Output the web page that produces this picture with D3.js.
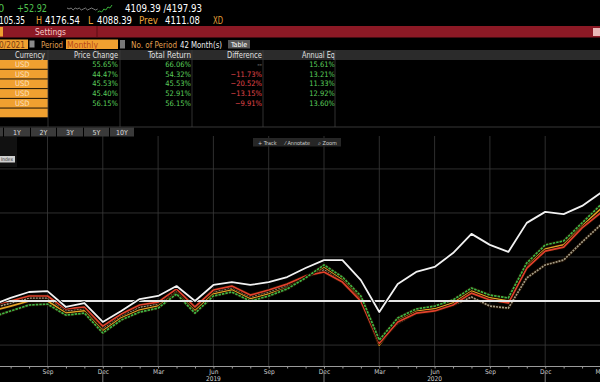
<!DOCTYPE html>
<html><head><meta charset="utf-8">
<script src="https://cdn.jsdelivr.net/npm/d3@7"></script>
<style>
html,body{margin:0;padding:0;background:#000;overflow:hidden}
svg{display:block}
text{font-family:"Liberation Sans Narrow","Arial Narrow","DejaVu Sans Condensed",sans-serif}
</style></head><body>
<svg id="c" width="600" height="382"></svg>
<script>
// ---------- DATA ----------
const months = ["2018-06","2018-07","2018-08","2018-09","2018-10","2018-11","2018-12",
 "2019-01","2019-02","2019-03","2019-04","2019-05","2019-06","2019-07","2019-08","2019-09","2019-10","2019-11","2019-12",
 "2020-01","2020-02","2020-03","2020-04","2020-05","2020-06","2020-07","2020-08","2020-09","2020-10","2020-11","2020-12",
 "2021-01","2021-02","2021-03"];
const whiteSeries  = [-1.8,1.4,4.1,4.5,-2.7,-0.9,-9.5,-4.5,0.9,2.3,6.8,0,7.3,8.6,7.3,8.6,10.9,15.0,18.6,18.6,9.5,-5.0,7.7,13.2,15.5,21.8,30.5,25.5,22.3,35.5,40.5,39.5,43.2,49.1];
const redSeries    = [-1.8,0,2.3,2.3,-3.6,-2.7,-11.4,-5.9,-1.8,-0.5,5.5,-2.7,5.0,6.8,2.7,5.0,7.7,11.4,13.2,8.6,0,-19.1,-9.5,-5.5,-4.5,-1.8,3.6,0.5,-0.9,15.0,22.7,24.5,33.2,40.0];
const graySeries   = [-3.2,-0.9,1.4,1.4,-4.5,-3.6,-12.3,-6.8,-2.7,-1.4,4.5,-3.6,4.1,5.9,1.8,4.1,6.8,10.9,14.1,9.1,0.9,-18.6,-10.0,-5.5,-4.5,-1.8,1.8,-2.3,-3.2,10.5,16.4,18.6,26.8,34.5];
const orangeSeries = [-4.5,-2.3,0,0,-5.5,-4.5,-13.6,-7.7,-4.1,-2.3,3.6,-4.5,3.2,5.0,0.9,3.2,5.9,10.9,15.5,10.0,0.9,-20.0,-8.6,-4.5,-3.6,-0.9,4.5,1.4,0,15.9,23.6,25.5,34.1,41.8];
const greenSeries  = [-7.3,-4.5,-1.8,-1.4,-6.4,-5.5,-14.5,-8.6,-5.0,-3.2,3.2,-5.5,2.3,4.1,0,2.3,5.5,10.5,16.4,10.9,2.3,-17.7,-7.7,-3.6,-2.3,0.5,5.9,2.7,1.4,17.3,25.5,27.3,35.5,43.6];
const gridValues = [-20,0,20,40,60];
const yearLabels = ["2018","2019","2020"];

const currencies  = ["USD","USD","USD","USD","USD"];
const priceChange = [55.65,44.47,45.53,45.40,56.15];
const totalReturn = [66.06,54.32,45.53,52.91,56.15];
const difference  = [null,-11.73,-20.52,-13.15,-9.91];
const annualEq    = [15.61,13.21,11.33,12.92,13.60];
const tableHeaders = ["Currency","Price Change","Total Return","Difference","Annual Eq"];
const rangeButtons = ["1Y","2Y","3Y","5Y","10Y"];
const sparkGray  = [6,7,6,8,6,7,6,8,7,6,8,7,6,7,8,7];
const sparkGreen = [10,9,10,7,8,5,6,3];

// ---------- DRAW ----------
const svg = d3.select("#c");
svg.append("rect").attr("width",600).attr("height",382).attr("fill","#000");

function T(x,y,s,o={}){
  const t = svg.append("text").attr("x",x).attr("y",y).text(s)
    .attr("font-size",o.size||10).attr("fill",o.fill||"#fff")
    .attr("text-anchor",o.anchor||"start");
  if(o.len) t.attr("textLength",o.len).attr("lengthAdjust","spacingAndGlyphs");
  return t;
}

// quote header
T(-2,12,"0",{fill:"#4fc04f",size:11});
T(17,12,"+52.92",{fill:"#4fc04f",size:11,len:30});
const sx = d3.scaleLinear().domain([0,sparkGray.length+sparkGreen.length-2]).range([67,112]);
const sy = d3.scaleLinear().domain([0,12]).range([2,14]);
svg.append("path").attr("d",d3.line().x((d,i)=>sx(i)).y(d=>sy(d))(sparkGray))
  .attr("fill","none").attr("stroke","#9a9a9a").attr("stroke-width",0.8);
svg.append("path").attr("d",d3.line().x((d,i)=>sx(i+sparkGray.length-1)).y(d=>sy(d))(sparkGreen))
  .attr("fill","none").attr("stroke","#3fbf3f").attr("stroke-width",0.9);
T(125,12,"4109.39 /4197.93",{size:11,len:77});
T(-1,24,"105.35",{size:11,len:26});
T(36,24,"H",{size:11,fill:"#e8a23a",len:6});
T(45,24,"4176.54",{size:11,len:35});
T(88,24,"L",{size:11,fill:"#e8a23a",len:5});
T(97,24,"4088.39",{size:11,len:35});
T(139,24,"Prev",{size:11,fill:"#e8a23a",len:19});
T(165,24,"4111.08",{size:11,len:35});
T(213,24,"XD",{size:11,fill:"#e8a23a",len:10});

// red settings bar
svg.append("rect").attr("x",0).attr("y",26).attr("width",600).attr("height",11.5).attr("fill","#8c1925");
svg.append("rect").attr("x",0).attr("y",27).attr("width",3).attr("height",9.5).attr("fill","#f0a030");
svg.append("line").attr("x1",97).attr("x2",97).attr("y1",26).attr("y2",37.5).attr("stroke","#5a0e15");
T(35,35,"Settings",{size:8.5,fill:"#f4c8c8",len:31});
svg.append("rect").attr("x",593).attr("y",28).attr("width",7).attr("height",8).attr("fill","#e9b7b7");

// period row
svg.append("rect").attr("x",0).attr("y",39.5).attr("width",28).attr("height",9.5).attr("fill","#f0a030");
T(-1,47.5,"0/2021",{size:8,fill:"#7a3b10",len:26});
svg.append("rect").attr("x",29.5).attr("y",40.5).attr("width",5).attr("height",7).attr("fill","#8a8a8a");
T(41,47.5,"Period",{size:8.5,fill:"#e0a050",len:22});
svg.append("rect").attr("x",66).attr("y",39.5).attr("width",52).attr("height",9.5).attr("fill","#f0a030");
T(67,47.5,"Monthly",{size:8.5,fill:"#b84818",len:31});
svg.append("rect").attr("x",120).attr("y",40).attr("width",5).attr("height",8.5).attr("fill","#777");
T(131,47.5,"No. of Period",{size:8.5,fill:"#e0a050",len:46});
T(180,47.5,"42 Month(s)",{size:8.5,fill:"#f0f0f0",len:42});
svg.append("rect").attr("x",228).attr("y",40).attr("width",22).attr("height",8.5).attr("fill","#555");
T(239,47,"Table",{size:7,fill:"#fff",anchor:"middle"});

// table header
svg.append("rect").attr("x",0).attr("y",50).attr("width",600).attr("height",10).attr("fill","#2b2b2b");
const colRight = [null,118,191,262,335];
const headLen = [30,44,43,35,33];
T(15,57.8,tableHeaders[0],{size:8,fill:"#e0e0e0",len:headLen[0]});
for(let c=1;c<5;c++) T(colRight[c]-headLen[c],57.8,tableHeaders[c],{size:8,fill:"#e0e0e0",len:headLen[c]});

const rowTop = i => 59.5 + 9.7*i;
const pct = d3.format(".2f");
for(let i=0;i<6;i++){
  svg.append("rect").attr("x",0).attr("y",rowTop(i)+0.5).attr("width",48).attr("height",8.8).attr("fill","#f0a030");
}
currencies.forEach((cur,i)=>{
  const yb = rowTop(i)+7.5;
  T(15,yb,cur,{size:7.5,fill:"#fbe0c0"});
  T(118,yb,pct(priceChange[i])+"%",{size:7.5,fill:"#5ccf5c",anchor:"end"});
  T(191,yb,pct(totalReturn[i])+"%",{size:7.5,fill:"#5ccf5c",anchor:"end"});
  T(262,yb,difference[i]==null?"--":pct(difference[i])+"%",{size:7.5,fill:difference[i]==null?"#aaa":"#e0464a",anchor:"end"});
  T(335,yb,pct(annualEq[i])+"%",{size:7.5,fill:"#5ccf5c",anchor:"end"});
});
[48,120,192,263,335].forEach(xv=>{
  svg.append("line").attr("x1",xv).attr("x2",xv).attr("y1",50).attr("y2",127).attr("stroke","#3c3c3c").attr("stroke-width",0.8);
});

// range buttons
svg.append("line").attr("x1",0).attr("x2",600).attr("y1",127).attr("y2",127).attr("stroke","#444").attr("stroke-width",0.8);
svg.append("rect").attr("x",0).attr("y",127.5).attr("width",3).attr("height",9).attr("fill","#3a3a3a");
const btnX = [4,31,57,84,110], btnW=[26,25,26,25,24];
rangeButtons.forEach((b,i)=>{
  svg.append("rect").attr("x",btnX[i]).attr("y",127.5).attr("width",btnW[i]).attr("height",9).attr("fill","#3a3a3a");
  T(btnX[i]+btnW[i]/2,134.5,b,{size:7,fill:"#ddd",anchor:"middle"});
});

// ---------- CHART ----------
const x = d3.scaleLinear().domain([0,months.length-1]).range([-7.8,600.5]);
const y = d3.scaleLinear().domain([-29.5,74.5]).range([366,137]);
const parseM = d3.timeParse("%Y-%m"), fmtM = d3.timeFormat("%b");
const dates = months.map(parseM);
const quarterIdx = d3.range(months.length).filter(i=>dates[i].getMonth()%3===2);
const decIdx = d3.range(months.length).filter(i=>dates[i].getMonth()===11);

svg.append("defs").append("clipPath").attr("id","clip")
  .append("rect").attr("x",0).attr("y",136).attr("width",600).attr("height",230);

svg.append("rect").attr("x",0).attr("y",137).attr("width",17).attr("height",30).attr("fill","#111");
svg.append("rect").attr("x",0).attr("y",156).attr("width",15).attr("height",6.5).attr("fill","#cfcfcf");
T(1,161.3,"Index",{size:5,fill:"#333",len:12});

const g = svg.append("g");
g.selectAll(".hg").data(gridValues).join("line")
  .attr("x1",0).attr("x2",600).attr("y1",d=>y(d)).attr("y2",d=>y(d))
  .attr("stroke","#3a3a3a").attr("stroke-width",0.8);
g.selectAll(".vg").data(quarterIdx).join("line")
  .attr("x1",d=>x(d)).attr("x2",d=>x(d)).attr("y1",136).attr("y2",366)
  .attr("stroke","#3a3a3a").attr("stroke-width",0.8);

svg.append("rect").attr("x",253).attr("y",138).attr("width",88).attr("height",8.5).attr("fill","#262626");
T(258,144.5,"+  Track",{size:5.5,fill:"#ccc"});
T(285,144.5,"⁄  Annotate",{size:5.5,fill:"#ccc"});
T(318,144.5,"⌕  Zoom",{size:5.5,fill:"#ccc"});

const line = d3.line().x((d,i)=>x(i)).y(d=>y(d));
const lg = svg.append("g").attr("clip-path","url(#clip)");
const colored = [
  {data:graySeries,  color:"#a39c86", dash:"2,1"},
  {data:orangeSeries,color:"#e3a226", dash:null},
  {data:redSeries,   color:"#e2412c", dash:null},
  {data:greenSeries, color:"#3fb846", dash:"2.5,1"}
];
colored.forEach(s=>{
  lg.append("path").attr("d",line(s.data)).attr("fill","none")
    .attr("stroke","#1a0d00").attr("stroke-width",3.2).attr("stroke-linejoin","round");
  const p = lg.append("path").attr("d",line(s.data)).attr("fill","none")
    .attr("stroke",s.color).attr("stroke-width",1.7).attr("stroke-linejoin","round");
  if(s.dash) p.attr("stroke-dasharray",s.dash);
});
lg.append("line").attr("x1",0).attr("x2",600).attr("y1",y(0)).attr("y2",y(0))
  .attr("stroke","#e6e6e6").attr("stroke-width",2);
lg.append("path").attr("d",line(whiteSeries)).attr("fill","none")
  .attr("stroke","#000").attr("stroke-width",3.4).attr("stroke-linejoin","round");
lg.append("path").attr("d",line(whiteSeries)).attr("fill","none")
  .attr("stroke","#f2f2f2").attr("stroke-width",1.8).attr("stroke-linejoin","round");

const ax = svg.append("g").attr("transform","translate(0,366)")
  .call(d3.axisBottom(x).tickValues(d3.range(months.length)).tickSize(2.5).tickFormat(""));
ax.select(".domain").attr("stroke","#9a9a9a");
ax.selectAll(".tick line").attr("stroke","#9a9a9a");
const al = svg.append("g").attr("transform","translate(0,366)")
  .call(d3.axisBottom(x).tickValues(quarterIdx).tickSize(0).tickPadding(3).tickFormat(i=>fmtM(dates[i])));
al.select(".domain").remove();
al.selectAll("text").attr("fill","#cfcfcf").attr("font-size",6.5)
  .attr("font-family",'"Liberation Sans Narrow","Arial Narrow","DejaVu Sans Condensed",sans-serif');
svg.selectAll(".yt").data(decIdx).join("line")
  .attr("x1",d=>x(d)).attr("x2",d=>x(d)).attr("y1",373).attr("y2",382)
  .attr("stroke","#9a9a9a").attr("stroke-width",0.8);
yearLabels.forEach(yr=>{
  const i = months.indexOf(yr+"-06");
  T(x(i),380.5,yr,{size:6.5,fill:"#cfcfcf",anchor:"middle"});
});
</script>
</body></html>
